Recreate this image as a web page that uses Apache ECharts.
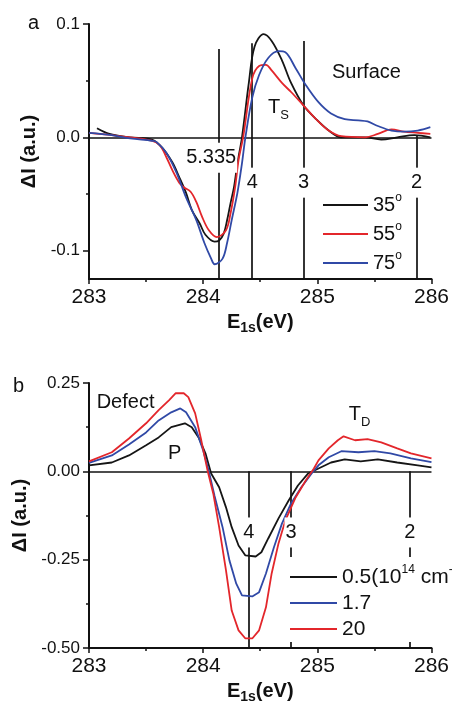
<!DOCTYPE html>
<html><head><meta charset="utf-8">
<script src="https://cdn.jsdelivr.net/npm/echarts@6/dist/echarts.min.js"></script>
<style>html,body{margin:0;padding:0;background:#fff}#c{width:452px;height:706px}</style>
</head><body><div id="c"></div>
<script>
// ---------- Panel a (Surface) ----------
const topNames = ['35', '55', '75'];
const topX35 = [283.07, 283.18, 283.36, 283.55, 283.64, 283.73, 283.79, 283.85, 283.90, 283.97, 284.02, 284.10, 284.14, 284.18, 284.21, 284.24, 284.27, 284.30, 284.34, 284.40, 284.45, 284.53, 284.60, 284.69, 284.77, 284.88, 284.98, 285.10, 285.21, 285.42, 285.56, 285.70, 285.85, 285.99];
const topY35 = [0.008, 0.003, 0.000, -0.002, -0.009, -0.022, -0.035, -0.049, -0.064, -0.076, -0.086, -0.092, -0.091, -0.085, -0.073, -0.058, -0.044, -0.023, 0.000, 0.048, 0.080, 0.091, 0.085, 0.068, 0.048, 0.028, 0.017, 0.006, 0.000, 0.000, -0.002, 0.000, 0.002, 0.000];
const topX55 = [283.0, 283.2, 283.36, 283.55, 283.62, 283.68, 283.73, 283.79, 283.83, 283.89, 283.94, 283.99, 284.05, 284.12, 284.20, 284.24, 284.28, 284.31, 284.35, 284.43, 284.49, 284.55, 284.60, 284.69, 284.77, 284.88, 284.98, 285.10, 285.21, 285.42, 285.53, 285.65, 285.76, 285.88, 285.99];
const topY55 = [0.004, 0.002, 0.000, -0.003, -0.007, -0.018, -0.029, -0.040, -0.044, -0.048, -0.057, -0.070, -0.082, -0.088, -0.082, -0.067, -0.044, -0.020, 0.000, 0.052, 0.063, 0.064, 0.059, 0.048, 0.040, 0.028, 0.017, 0.006, 0.001, 0.000, 0.003, 0.007, 0.005, 0.004, 0.003];
const topX75 = [283.0, 283.2, 283.36, 283.55, 283.59, 283.68, 283.77, 283.85, 283.94, 284.01, 284.07, 284.10, 284.17, 284.21, 284.25, 284.30, 284.34, 284.37, 284.43, 284.49, 284.57, 284.66, 284.72, 284.81, 284.90, 285.01, 285.12, 285.24, 285.36, 285.44, 285.53, 285.65, 285.76, 285.88, 285.99];
const topY75 = [0.004, 0.002, -0.001, -0.003, -0.004, -0.014, -0.032, -0.053, -0.073, -0.093, -0.107, -0.112, -0.107, -0.093, -0.073, -0.049, -0.023, 0.000, 0.035, 0.055, 0.070, 0.076, 0.075, 0.061, 0.046, 0.031, 0.021, 0.016, 0.015, 0.014, 0.010, 0.006, 0.005, 0.006, 0.009];
const topYTicks = [-0.1, 0, 0.1];
const topYMinorTicks = [-0.05, 0.05];
const topRefX = [284.14, 284.43, 284.88, 285.87];
const topRefTop = [0.078, 0.083, 0.085, 0.002];
const topRefLabels = ['5.335', '4', '3', '2'];
const topRefLabelX = [284.07, 284.43, 284.88, 285.87];
const topRefLabelY = [-0.018, -0.040, -0.040, -0.040];
const topNotes = ['Surface', 'T{sub|S}'];
const topNoteX = [285.43, 284.66];
const topNoteY = [0.057, 0.026];

// ---------- Panel b (Defect) ----------
const botNames = ['0.5', '1.7', '20'];
const botLegendText = ['0.5(10{sup|14} cm{sup|-3})', '1.7', '20'];
const botX05 = [283.0, 283.2, 283.35, 283.5, 283.61, 283.72, 283.84, 283.90, 283.96, 284.02, 284.07, 284.14, 284.20, 284.25, 284.31, 284.37, 284.46, 284.51, 284.57, 284.66, 284.75, 284.83, 284.92, 285.01, 285.12, 285.24, 285.38, 285.53, 285.70, 285.88, 286.0];
const botY05 = [0.017, 0.025, 0.045, 0.074, 0.096, 0.125, 0.136, 0.125, 0.096, 0.051, -0.006, -0.045, -0.102, -0.158, -0.210, -0.238, -0.241, -0.229, -0.190, -0.133, -0.082, -0.040, -0.006, 0.008, 0.025, 0.034, 0.028, 0.034, 0.025, 0.017, 0.011];
const botX17 = [283.0, 283.2, 283.35, 283.5, 283.61, 283.72, 283.80, 283.85, 283.93, 284.0, 284.05, 284.10, 284.17, 284.23, 284.29, 284.34, 284.43, 284.49, 284.55, 284.62, 284.69, 284.77, 284.86, 284.95, 285.01, 285.10, 285.21, 285.36, 285.50, 285.64, 285.82, 286.0];
const botY17 = [0.024, 0.045, 0.076, 0.110, 0.144, 0.167, 0.178, 0.167, 0.125, 0.059, 0.000, -0.070, -0.158, -0.252, -0.318, -0.351, -0.354, -0.342, -0.289, -0.215, -0.148, -0.091, -0.045, -0.006, 0.017, 0.040, 0.057, 0.054, 0.057, 0.051, 0.037, 0.026];
const botX20 = [283.0, 283.2, 283.35, 283.5, 283.61, 283.70, 283.76, 283.83, 283.87, 283.93, 283.98, 284.04, 284.09, 284.14, 284.20, 284.25, 284.31, 284.37, 284.43, 284.49, 284.55, 284.60, 284.66, 284.72, 284.81, 284.90, 284.97, 285.01, 285.10, 285.18, 285.23, 285.33, 285.44, 285.56, 285.70, 285.82, 286.0];
const botY20 = [0.028, 0.054, 0.093, 0.136, 0.173, 0.201, 0.221, 0.221, 0.210, 0.164, 0.093, 0.000, -0.065, -0.158, -0.280, -0.394, -0.450, -0.473, -0.473, -0.450, -0.385, -0.289, -0.204, -0.139, -0.074, -0.025, 0.008, 0.031, 0.065, 0.088, 0.099, 0.088, 0.091, 0.082, 0.065, 0.051, 0.037];
const botRefX = [284.40, 284.77, 285.81];
const botRefLabels = ['4', '3', '2'];
const botRefLabelY = [-0.173, -0.173, -0.173];
const botNotes = ['Defect', 'P', 'T{sub|D}'];
const botNoteX = [283.32, 283.75, 285.37];
const botNoteY = [0.195, 0.051, 0.161];

const xTickLabels = [283, 284, 285, 286];

// ---------- build ----------
const FONT = '"Liberation Sans", Arial, Helvetica, sans-serif';
const INK = '#111111';
const BLACK = '#151515', RED = '#e3262b', BLUE = '#3049a6';
const TOP_COLORS = [BLACK, RED, BLUE];
const BOT_COLORS = [BLACK, BLUE, RED];
const zip = (xs, ys) => xs.map((x, i) => [x, ys[i]]);
const richSub = {
  sub: { fontSize: 13, lineHeight: 14, verticalAlign: 'bottom', fontFamily: FONT, color: INK },
  sup: { fontSize: 12, lineHeight: 15, verticalAlign: 'top', fontFamily: FONT, color: INK }
};
const richSubBold = {
  sub: { fontSize: 14, lineHeight: 14, verticalAlign: 'bottom', fontWeight: 'bold', fontFamily: FONT, color: INK }
};

const topData = [zip(topX35, topY35), zip(topX55, topY55), zip(topX75, topY75)];
const botData = [zip(botX05, botY05), zip(botX17, botY17), zip(botX20, botY20)];

const axisLineStyle = { color: INK, width: 2 };

function xAxisFor(grid) {
  return {
    type: 'value', gridIndex: grid, min: xTickLabels[0], max: xTickLabels[xTickLabels.length - 1], interval: 1,
    position: 'bottom',
    axisLine: { onZero: false, lineStyle: axisLineStyle },
    axisTick: { length: 5, lineStyle: { color: INK, width: 1.5 } },
    minorTick: { show: true, splitNumber: 2, length: 3, lineStyle: { color: INK, width: 1.5 } },
    splitLine: { show: false },
    axisLabel: { fontSize: 21, color: INK, fontFamily: FONT, margin: 8 },
    name: 'E{sub|1s}(eV)', nameLocation: 'middle', nameGap: 30,
    nameTextStyle: { fontSize: 20, fontWeight: 'bold', color: INK, fontFamily: FONT, lineHeight: 26, rich: richSubBold }
  };
}

const option = {
  animation: false,
  backgroundColor: '#fff',
  grid: [
    { left: 89, top: 24, width: 345, height: 255 },
    { left: 89, top: 383, width: 345, height: 265 }
  ],
  xAxis: [xAxisFor(0), xAxisFor(1)],
  yAxis: [
    {
      type: 'value', gridIndex: 0, min: -0.125, max: 0.1, position: 'left',
      axisLine: { onZero: false, lineStyle: axisLineStyle },
      axisTick: { customValues: topYTicks, length: 6, lineStyle: { color: INK, width: 1.5 } },
      axisLabel: { customValues: topYTicks, formatter: v => v.toFixed(1), fontSize: 17, color: INK, fontFamily: FONT, margin: 9 },
      splitLine: { show: false },
      name: 'ΔI (a.u.)', nameLocation: 'middle', nameGap: 41,
      nameTextStyle: { fontSize: 20, fontWeight: 'bold', color: INK, fontFamily: FONT }
    },
    {
      type: 'value', gridIndex: 0, min: -0.125, max: 0.1, position: 'left', offset: 0,
      axisLine: { show: false, onZero: false },
      axisTick: { customValues: topYMinorTicks, length: 3, lineStyle: { color: INK, width: 1.5 } },
      axisLabel: { show: false },
      splitLine: { show: false }
    },
    {
      type: 'value', gridIndex: 1, min: -0.5, max: 0.25, interval: 0.25, position: 'left',
      axisLine: { onZero: false, lineStyle: axisLineStyle },
      axisTick: { length: 6, lineStyle: { color: INK, width: 1.5 } },
      minorTick: { show: true, splitNumber: 2, length: 3, lineStyle: { color: INK, width: 1.5 } },
      axisLabel: { formatter: v => v.toFixed(2), fontSize: 17, color: INK, fontFamily: FONT, margin: 9 },
      splitLine: { show: false },
      name: 'ΔI (a.u.)', nameLocation: 'middle', nameGap: 58,
      nameTextStyle: { fontSize: 20, fontWeight: 'bold', color: INK, fontFamily: FONT }
    }
  ],
  legend: [
    {
      data: topNames, orient: 'vertical', left: 323, top: 192, padding: 0, itemGap: 3,
      icon: 'rect', itemWidth: 45, itemHeight: 2, selectedMode: false,
      formatter: n => n + '{sup|o}',
      textStyle: { fontSize: 20, lineHeight: 26, color: INK, fontFamily: FONT, rich: richSub }
    },
    {
      data: botNames, orient: 'vertical', left: 287, top: 557, padding: [7, 0, 0, 3], itemGap: 0,
      backgroundColor: '#fff', icon: 'rect', itemWidth: 47, itemHeight: 2, selectedMode: false,
      formatter: n => botLegendText[botNames.indexOf(n)],
      textStyle: { fontSize: 21, lineHeight: 26, color: INK, fontFamily: FONT, rich: richSub }
    }
  ],
  graphic: [
    { type: 'text', left: 28, top: 13, style: { text: 'a', fill: INK, font: '20px ' + FONT } },
    { type: 'text', left: 13, top: 376, style: { text: 'b', fill: INK, font: '20px ' + FONT } }
  ],
  series: []
};

function refLines(xs, tops, bottom, withZero) {
  const d = xs.map((x, i) => [{ coord: [x, tops[i]] }, { coord: [x, bottom] }]);
  if (withZero) d.push({ yAxis: 0 });
  return {
    silent: true, symbol: ['none', 'none'], z: 2, animation: false,
    label: { show: false },
    lineStyle: { color: INK, width: 1.7, type: 'solid' },
    emphasis: { disabled: true },
    data: d
  };
}

topNames.forEach((n, i) => {
  const s = {
    name: n, type: 'line', xAxisIndex: 0, yAxisIndex: 0, data: topData[i],
    smooth: 0.35, symbol: 'none', z: 3,
    lineStyle: { color: TOP_COLORS[i], width: 1.8 }, itemStyle: { color: TOP_COLORS[i] }
  };
  if (i === 0) s.markLine = refLines(topRefX, topRefTop, -0.125, true);
  option.series.push(s);
});
botNames.forEach((n, i) => {
  const s = {
    name: n, type: 'line', xAxisIndex: 1, yAxisIndex: 2, data: botData[i],
    smooth: false, symbol: 'none', z: 3,
    lineStyle: { color: BOT_COLORS[i], width: 1.8 }, itemStyle: { color: BOT_COLORS[i] }
  };
  if (i === 0) s.markLine = refLines(botRefX, botRefX.map(() => 0), -0.5, true);
  option.series.push(s);
});

function labelSeries(xAxisIndex, yAxisIndex, xs, ys, texts, bg) {
  return {
    type: 'scatter', xAxisIndex, yAxisIndex, silent: true, z: 6,
    symbolSize: 0, itemStyle: { color: '#fff', opacity: 1 },
    emphasis: { disabled: true },
    data: xs.map((x, i) => ({
      value: [x, ys[i]],
      label: {
        show: true, position: 'inside', formatter: texts[i],
        fontSize: 20, lineHeight: 28, color: INK, opacity: 1,
        textBorderWidth: 0, fontFamily: FONT,
        backgroundColor: bg || 'transparent', padding: bg ? [1, 1] : 0,
        rich: richSub
      }
    }))
  };
}
option.series.push(labelSeries(0, 0, topRefLabelX, topRefLabelY, topRefLabels, '#fff'));
option.series.push(labelSeries(0, 0, topNoteX, topNoteY, topNotes, null));
option.series.push(labelSeries(1, 2, botRefX, botRefLabelY, botRefLabels, '#fff'));
option.series.push(labelSeries(1, 2, botNoteX, botNoteY, botNotes, null));

const chart = echarts.init(document.getElementById('c'), null, { renderer: 'canvas' });
chart.setOption(option);
</script></body></html>
